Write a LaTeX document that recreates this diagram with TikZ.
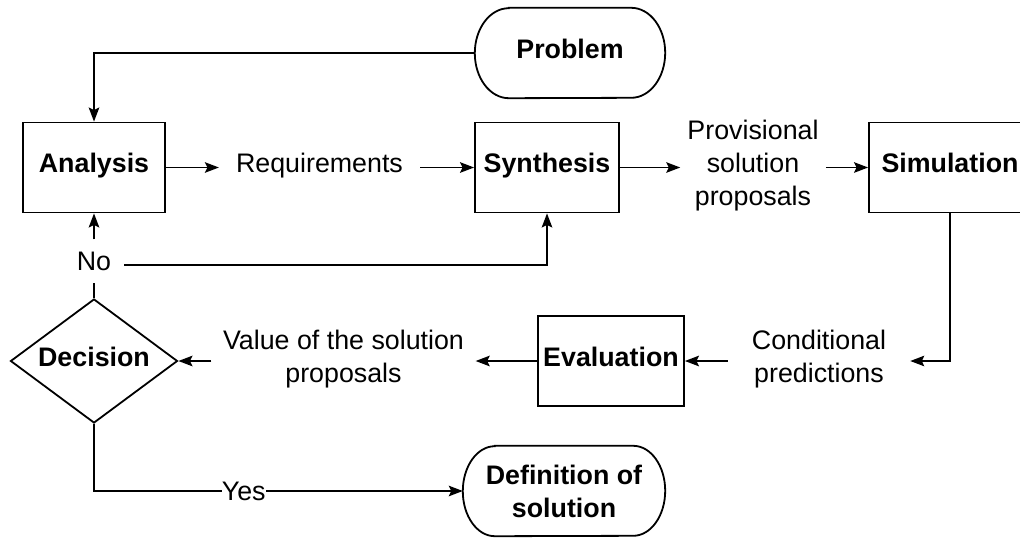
\documentclass[tikz,border=0pt]{standalone}
\usepackage{fontspec}
\setmainfont{Liberation Sans}
\usetikzlibrary{shapes.geometric,arrows.meta}
\newcommand\mystadium[2]{%
  \draw[ln] ([xshift=#2]#1.north west) -- ([xshift=-#2]#1.north east)
    arc[start angle=90,end angle=-90,x radius=#2,y radius=45pt]
    -- ([xshift=#2]#1.south west)
    arc[start angle=270,end angle=90,x radius=#2,y radius=45pt] -- cycle;}
\begin{document}
\begin{tikzpicture}[x=1pt,y=1pt,
  every node/.style={font=\fontsize{26.8pt}{33pt}\selectfont},
  ln/.style={line width=1.8pt, draw=black},
  arr/.style={ln, -{Stealth[length=14pt,width=10.5pt,inset=2.5pt]}},
  fixed/.style={text height=19pt, text depth=9pt},
  box/.style={draw, line width=1.8pt, minimum height=90pt, inner sep=0pt, fixed,
    font=\fontsize{26.8pt}{33pt}\selectfont\bfseries},
  term/.style={minimum height=90pt, inner sep=0pt, align=center,
    font=\fontsize{26.8pt}{33pt}\selectfont\bfseries},
  lbl/.style={align=center, inner ysep=2pt}
]
\useasboundingbox (0,0) rectangle (1020,-541);

% boxes
\node[box, minimum width=142pt] (ana) at (94,-167.5) {Analysis};
\node[box, minimum width=144pt] (syn) at (547,-167.5) {Synthesis};
\node[box, minimum width=162pt] (sim) at (950,-167.5) {Simulation};
\node[box, minimum width=146pt] (eva) at (611,-361) {Evaluation};
\node[diamond, draw, line width=1.8pt, aspect=1.347, minimum width=167pt,
  minimum height=124pt, inner sep=0pt, fixed,
  font=\fontsize{26.8pt}{33pt}\selectfont\bfseries] (dec) at (94,-361) {Decision};

% terminals
\node[term, fixed, minimum width=190pt] (prob) at (570,-53) {Problem};
\node[term, minimum width=202pt] (def) at (564,-491) {Definition of\\solution};
\mystadium{prob}{34pt}
\mystadium{def}{32pt}

% text nodes
\node[lbl, inner xsep=17pt, fixed] (req) at (319.5,-167.5) {Requirements};
\node[lbl, inner xsep=7pt] (prov) at (753,-166) {Provisional\\solution\\proposals};
\node[lbl, inner xsep=24pt] (cond) at (819,-359) {Conditional\\predictions};
\node[lbl, inner xsep=11.5pt] (val) at (343.5,-359) {Value of the solution\\proposals};
\node[inner xsep=13pt, inner ysep=12pt] (no) at (94,-261) {No};
\coordinate (nl) at (0,-265);

% connectors
\draw[arr] (prob.west) -| (ana.north);
\draw[arr] (ana.east) -- (ana.east -| req.west);
\draw[arr] (req.east |- syn.west) -- (syn.west);
\draw[arr] (syn.east) -- (syn.east -| prov.west);
\draw[arr] (prov.east |- sim.west) -- (sim.west);
\draw[arr] (sim.south) |- (cond.east |- eva.east);
\draw[arr] (cond.west |- eva.east) -- (eva.east);
\draw[arr] (eva.west) -- (eva.west -| val.east);
\draw[arr] (val.west |- dec.east) -- (dec.east);
\draw[ln] (dec.north) -- (no.south);
\draw[arr] (no.north) -- (ana.south);
\draw[arr] (no.east |- nl) -| (syn.south);
\draw[arr] (dec.south) |- node[pos=0.703, fill=white, inner sep=0pt] (yes) {Yes} (def.west);
\end{tikzpicture}
\end{document}
